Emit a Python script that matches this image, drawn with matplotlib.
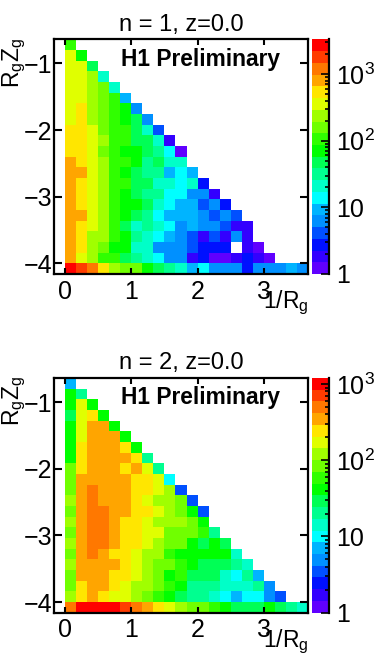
import numpy as np
import matplotlib
matplotlib.use('Agg')
import matplotlib.pyplot as plt
from matplotlib.colors import ListedColormap, LogNorm
from matplotlib.ticker import LogLocator, NullFormatter, FixedFormatter, FixedLocator

plt.rcParams['font.family'] = ['Liberation Sans', 'DejaVu Sans']
plt.rcParams['mathtext.default'] = 'regular'

# bin edges
x_edges = [i/6 for i in range(23)]
y_edges = [-0.64 - 0.16*i for i in range(23)]

nan = float('nan')

# counts per row, top row first, left to right
n1_rows = [
    [97],
    [320,65],
    [320,320,44],
    [320,320,215,20],
    [320,320,215,145,20],
    [320,320,215,145,97,9],
    [320,475,215,145,97,65,6],
    [320,475,215,145,97,65,44,6],
    [475,475,320,145,97,97,44,20,4],
    [475,475,320,215,97,97,44,44,20,1.8],
    [475,475,320,145,97,65,65,44,30,13,1.2],
    [700,475,320,215,97,97,65,30,44,20,20],
    [700,700,320,215,97,65,44,30,30,9,13,9],
    [700,475,320,215,97,97,44,44,20,20,13,20,2.7],
    [700,475,320,215,97,65,44,30,30,13,13,6,6,1.8],
    [700,475,320,215,97,65,65,44,20,13,9,9,4,6,2.7],
    [700,700,320,215,97,65,44,30,13,9,9,9,6,4,6,4],
    [700,475,320,215,97,44,20,30,20,13,6,9,6,6,4,1.8,1.8],
    [700,475,215,215,97,65,30,20,13,9,6,4,1.8,4,1.8,6,1.8],
    [700,475,215,145,65,65,20,20,6,6,6,4,2.7,2.7,2.7,nan,1.8,1.2],
    [700,320,215,97,97,44,30,20,13,6,6,1.8,2.7,1.2,1.2,1.8,2.7,1.8,1.2],
    [2300,1560,1050,475,215,145,145,65,44,30,20,9,13,6,6,6,2.7,6,6,6,9,6],
]

n2_rows = [
    [7],
    [42,20],
    [42,170,42],
    [29,170,245,42],
    [42,170,350,350,42],
    [42,170,350,350,350,42],
    [42,245,350,350,350,245,42],
    [42,245,350,350,350,350,245,20],
    [85,245,350,350,350,245,350,170,20],
    [85,350,350,350,350,350,245,245,170,10],
    [85,350,500,350,350,350,245,245,170,120,3.5],
    [120,350,500,350,350,350,245,170,120,120,85,3.5],
    [85,350,500,500,350,350,245,245,170,120,85,42,3.5],
    [120,350,500,500,350,245,245,170,120,120,120,85,42],
    [85,350,500,500,350,245,245,170,170,85,85,85,60,20],
    [120,350,500,500,350,245,245,170,120,85,85,42,29,42,29],
    [85,350,500,350,245,245,170,120,120,60,42,42,42,42,42,14],
    [120,350,350,350,350,245,170,120,85,85,60,42,29,29,29,20,14],
    [85,350,350,350,245,245,170,120,85,42,60,29,29,29,14,10,20,7],
    [85,245,350,350,245,170,120,120,85,60,42,20,20,20,14,14,14,20,5],
    [120,245,350,245,170,170,120,85,60,42,29,20,20,14,10,7,10,10,5,3.5],
    [500,1000,1000,1000,1000,700,500,350,245,170,120,85,85,60,42,29,29,29,42,29,20,14],
]

palette = ['#6000ff','#3300ff','#0010ff','#0050ff','#0090ff','#00b4ff','#00ffff',
           '#00ffc8','#00ff90','#00ff55','#00ff00','#30ff00','#70ff00','#a0ff00',
           '#e0ff00','#ffe600','#ffa500','#ff7800','#ff3c00','#ff0000']
cmap = ListedColormap(palette)
cmap.set_bad('white')

W = 380.0
H = 658.0


def panel(rows, title, vmax, top, bottom, title_y):
    Z = np.full((22, 22), np.nan)
    for i, row in enumerate(rows):
        Z[i, :len(row)] = row

    ax = fig.add_axes([54/W, 1-bottom/H, (308-54)/W, (bottom-top)/H])
    mesh = ax.pcolormesh(x_edges, y_edges, Z, cmap=cmap, norm=LogNorm(1, vmax))
    ax.set_xlim(-1/6, 3.6667)
    ax.set_ylim(-4.16, -0.64)
    ax.set_xticks([0, 1, 2, 3])
    ax.set_yticks([-1, -2, -3, -4])
    ax.set_yticklabels(['\u22121', '\u22122', '\u22123', '\u22124'])
    ax.tick_params(direction='in', top=True, right=True, length=5.5, width=1.5,
                   labelsize=18, pad=1)
    ax.tick_params(axis='x', length=4.5, pad=4)
    for s in ax.spines.values():
        s.set_linewidth(1.6)

    ax.text(0.575, 0.915, 'H1 Preliminary', transform=ax.transAxes, ha='center',
            va='center', fontsize=16.4, fontweight='bold')
    fig.text(181/W, 1-title_y/H, title, ha='center', va='center', fontsize=17)
    fig.text(309/W, 1-(bottom+34)/H, '1/R$_{g}$', ha='right', va='baseline', fontsize=16.5)
    fig.text(14/W, 1-(top-2)/H, 'R$_{g}$Z$_{g}$', rotation=90, ha='center', va='top', fontsize=16.5)

    # colour scale
    cax = fig.add_axes([311.5/W, 1-bottom/H, (329-311.5)/W, (bottom-top)/H])
    cb = fig.colorbar(mesh, cax=cax)
    cb.outline.set_visible(False)
    cax.spines['right'].set_visible(True)
    cax.spines['right'].set_linewidth(1.6)
    cax.yaxis.set_major_locator(FixedLocator([1, 10, 100, 1000]))
    cax.yaxis.set_major_formatter(FixedFormatter(['1', '10', '10$^{2}$', '10$^{3}$']))
    cax.yaxis.set_minor_locator(LogLocator(base=10, subs=range(2, 10)))
    cax.yaxis.set_minor_formatter(NullFormatter())
    cax.tick_params(which='major', direction='in', length=6, width=1.2, labelsize=18, pad=5)
    cax.tick_params(which='minor', direction='in', length=3, width=1.2)


fig = plt.figure(figsize=(3.8, 6.58), dpi=100)
panel(n1_rows, 'n = 1, z=0.0', 3300, 39.5, 274, 25)
panel(n2_rows, 'n = 2, z=0.0', 1200, 378, 612.7, 363)
fig.savefig('out.png', dpi=100)
